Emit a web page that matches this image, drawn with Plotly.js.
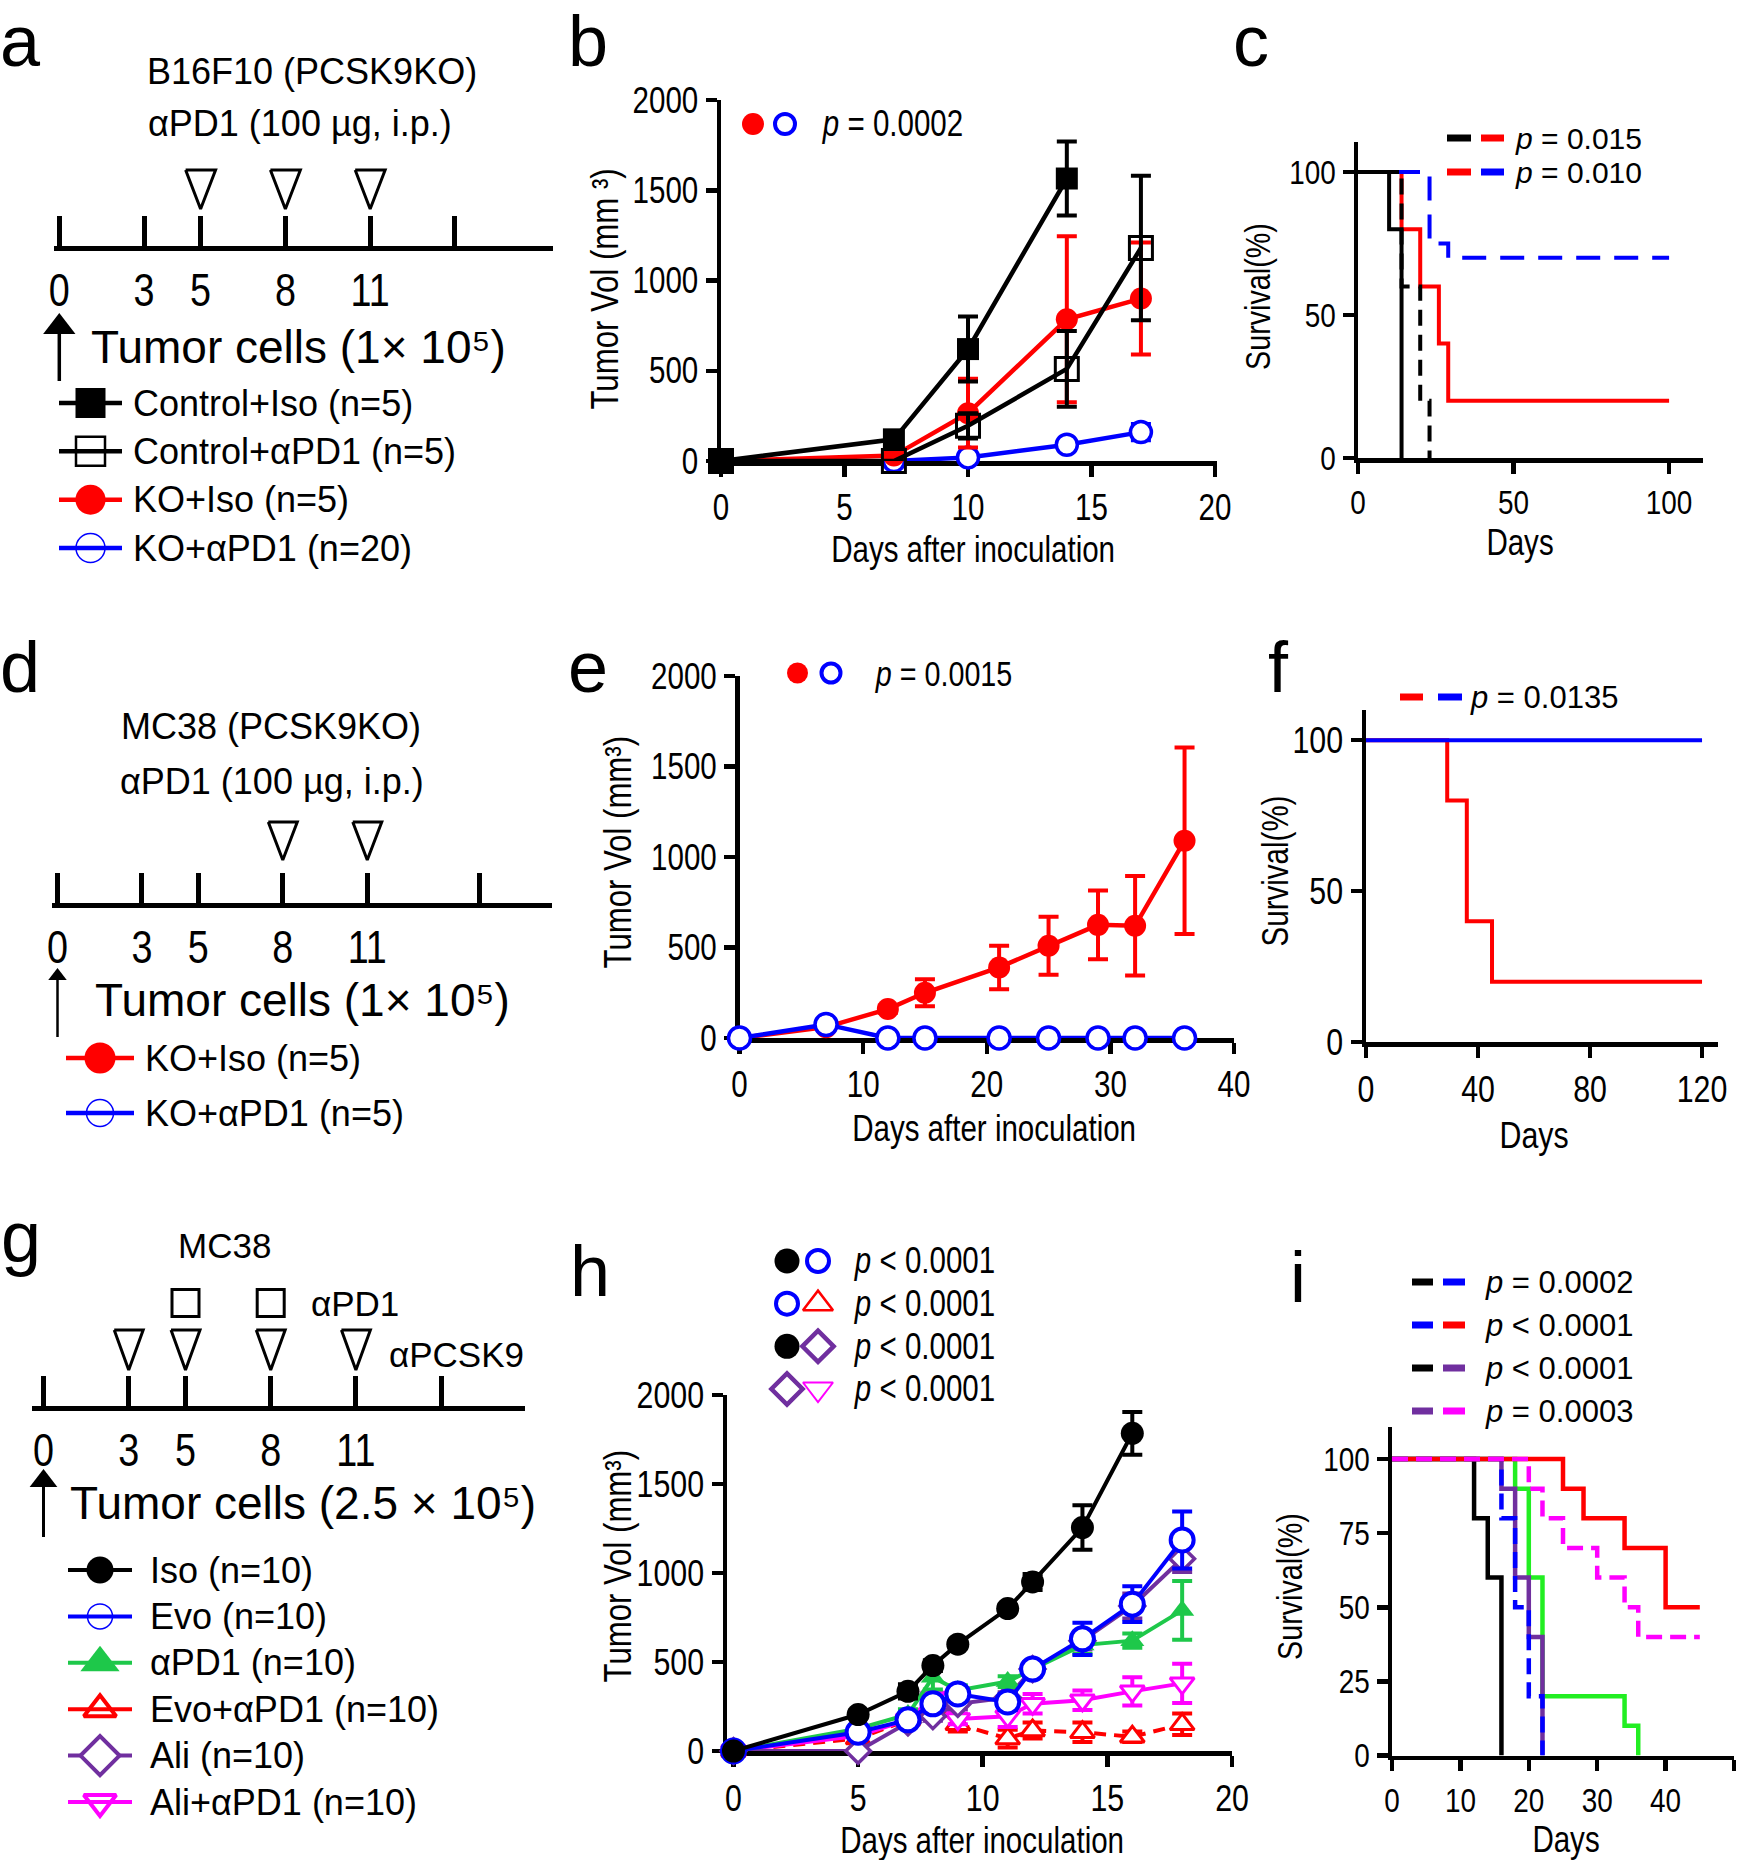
<!DOCTYPE html>
<html>
<head>
<meta charset="utf-8">
<script src="https://cdn.plot.ly/plotly-3.0.1.min.js"></script>
<style>html,body{margin:0;padding:0;background:#fff;}#fig{width:1751px;height:1860px;}</style>
</head>
<body>
<div id="fig"></div>
<script>
// ================= DATA =================
// treatment schedules (days)
const schedATicks=[0,3,5,8,11];
const schedAEnd=[14];
const schedADoses=[5,8,11];
const schedDTicks=[0,3,5,8,11];
const schedDEnd=[15];
const schedDDoses=[8,11];
const schedGTicks=[0,3,5,8,11];
const schedGEnd=[14];
const schedGPcsk9=[3,5,8,11];
const schedGPd1=[5,8];
const inoculationDay=[0];

// group names
const groupsB=['Control+Iso (n=5)','Control+αPD1 (n=5)','KO+Iso (n=5)','KO+αPD1 (n=20)'];
const groupsE=['KO+Iso (n=5)','KO+αPD1 (n=5)'];
const groupsH=['Iso (n=10)','Evo (n=10)','αPD1 (n=10)','Evo+αPD1 (n=10)','Ali (n=10)','Ali+αPD1 (n=10)'];

// panel b : tumour volume (mm3)
const bDaysCtrlIso=[0,7,10,14];
const bCtrlIso=[0,120,620,1565];
const bCtrlIsoErr=[0,20,180,205];
const bDaysCtrlPD1=[0,7,10,14,17];
const bCtrlPD1=[0,0,195,510,1180];
const bCtrlPD1Err=[0,0,70,210,400];
const bDaysKOIso=[0,7,10,14,17];
const bKOIso=[0,30,265,785,900];
const bKOIsoErr=[0,10,190,460,310];
const bDaysKOPD1=[7,10,14,17];
const bKOPD1=[0,20,90,160];
const bKOPD1Err=[0,15,20,45];
const bPText='<i>p</i> = 0.0002';

// panel c : survival (%)
const cCtrlIsoT=[0,10,14];      const cCtrlIsoS=[100,80,0];
const cCtrlPD1T=[0,14,20,23];   const cCtrlPD1S=[100,60,20,0];
const cKOIsoT=[0,14,20,26,29,100]; const cKOIsoS=[100,80,60,40,20,20];
const cKOPD1T=[0,23,29,100];    const cKOPD1S=[100,75,70,70];
const cPTexts=['<i>p</i> = 0.015','<i>p</i> = 0.010'];

// panel e : tumour volume (mm3)
const eDays=[0,7,12,15,21,25,29,32,36];
const eKOIso=[0,60,160,250,390,510,625,620,1090];
const eKOIsoErr=[0,10,20,75,120,160,190,275,515];
const eKOPD1=[0,75,0,0,0,0,0,0,0];
const eKOPD1Err=[0,0,0,0,0,0,0,0,0];
const ePText='<i>p</i> = 0.0015';

// panel f : survival (%)
const fKOIsoT=[0,29,36,45,120]; const fKOIsoS=[100,80,40,20,20];
const fKOPD1T=[0,120];          const fKOPD1S=[100,100];
const fPText='<i>p</i> = 0.0135';

// panel h : tumour volume (mm3)
const hDaysIso=[0,5,7,8,9,11,12,14,16];
const hIso=[0,205,335,480,600,800,950,1255,1785];
const hIsoErr=[0,20,40,30,20,20,45,125,120];
const hDays=[0,5,7,8,9,11,12,14,16,18];
const hEvo=[0,105,175,265,320,275,460,630,825,1185];
const hEvoErr=[0,20,25,30,30,45,40,90,100,160];
const hPD1=[0,125,205,415,340,390,460,595,620,790];
const hPD1Err=[0,20,30,70,30,30,30,50,40,165];
const hEvoPD1=[0,70,175,265,150,70,115,105,80,150];
const hEvoPD1Err=[0,15,20,30,40,50,45,55,30,60];
const hAli=[0,0,160,195,265,300,460,620,815,1080];
const hAliErr=[0,0,20,25,30,30,40,50,70,75];
const hAliPD1=[0,85,175,300,180,195,265,285,335,380];
const hAliPD1Err=[0,15,20,30,30,60,55,55,80,110];
const hPTexts=['<i>p</i> &lt; 0.0001','<i>p</i> &lt; 0.0001','<i>p</i> &lt; 0.0001','<i>p</i> &lt; 0.0001'];

// panel i : survival (%)
const iIsoT=[0,12,14,16];               const iIsoS=[100,80,60,0];
const iEvoT=[0,16,18,20,22];            const iEvoS=[100,80,50,20,0];
const iPD1T=[0,18,20,22,34,36];         const iPD1S=[100,90,60,20,10,0];
const iEvoPD1T=[0,25,28,34,40,45];      const iEvoPD1S=[100,90,80,70,50,50];
const iAliT=[0,16,18,20,22];            const iAliS=[100,90,60,40,0];
const iAliPD1T=[0,20,22,25,30,34,36,45];const iAliPD1S=[100,90,80,70,60,50,40,40];
const iPTexts=['<i>p</i> = 0.0002','<i>p</i> &lt; 0.0001','<i>p</i> &lt; 0.0001','<i>p</i> = 0.0003'];

// ================= STYLE / HELPERS =================
const W=1751,H=1860;
const NARROW='"Liberation Sans Narrow","Liberation Sans",Arial,sans-serif';
const SANS='"Liberation Sans",Arial,Helvetica,sans-serif';
const SQ=0.82; // horizontal condensing used when no narrow face is installed
const RED='#ff0000',BLUE='#0000ff',BLACK='#000000',GREENH='#1ec84a',GREENI='#22ee22',PURPLE='#702f9f',MAGENTA='#ff00ff';

const layout={width:W,height:H,margin:{l:0,r:0,t:0,b:0,pad:0},paper_bgcolor:'#fff',plot_bgcolor:'rgba(0,0,0,0)',
  showlegend:false,hovermode:false,annotations:[],shapes:[],font:{family:NARROW,color:'#000'}};
const traces=[];
let nAx=0;
function addAxes(xpx,ypx,xo,yo){
  nAx++; const s=nAx===1?'':String(nAx);
  const base={visible:false,showgrid:false,zeroline:false,fixedrange:true,automargin:false};
  layout['xaxis'+s]=Object.assign({},base,{domain:[xpx[0]/W,xpx[1]/W],anchor:'y'+s},xo||{});
  layout['yaxis'+s]=Object.assign({},base,{domain:[1-ypx[0]/H,1-ypx[1]/H],anchor:'x'+s},yo||{});
  return {x:'x'+s,y:'y'+s,ypx:ypx};
}
function text(t,xpx,ypx,size,family,extra){
  layout.annotations.push(Object.assign({xref:'paper',yref:'paper',x:xpx/W,y:1-ypx/H,text:t,showarrow:false,
    xanchor:'center',yanchor:'middle',font:{family:family,size:size,color:'#000'}},extra||{}));
}
function dataAxes(xpx,ypx,xrange,xticks,yrange,yticks,fs){
  const common={visible:true,showline:true,linecolor:'#000',linewidth:4.5,ticks:'outside',ticklen:11,tickwidth:4.5,
    tickcolor:'#000',tickfont:{family:NARROW,size:fs,color:'#000'},layer:'below traces'};
  return addAxes(xpx,ypx,Object.assign({},common,{range:xrange,tickvals:xticks,ticktext:xticks.map(String)}),
                          Object.assign({},common,{range:yrange,tickvals:yticks,ticktext:yticks.map(String)}));
}
function growth(a,x,y,err,st){
  traces.push({type:'scatter',mode:'lines+markers',x:x,y:y,xaxis:a.x,yaxis:a.y,cliponaxis:false,hoverinfo:'skip',
    line:{color:st.color,width:st.lw||4,dash:st.dash||'solid'},
    marker:{symbol:st.symbol,size:st.size,color:st.fill,line:{color:st.color,width:st.mlw||0}},
    error_y:{type:'data',array:err,visible:true,color:st.color,thickness:st.et||4,width:st.ew||10}});
}
function surv(a,x,y,color,dash,lw){
  traces.push({type:'scatter',mode:'lines',x:x,y:y,xaxis:a.x,yaxis:a.y,cliponaxis:false,hoverinfo:'skip',
    line:{shape:'hv',color:color,width:lw||4,dash:dash||'solid'}});
}
// timeline: day axis drawn at axisPx, sub-plot spans topPx..bottomPx so the arrow below fits
function timeline(xpx,axisPx,topPx,bottomPx,dayPx0,pxPerDay,ticks,endTick){
  const range=[(xpx[0]-dayPx0)/pxPerDay,(xpx[1]-dayPx0)/pxPerDay];
  return addAxes(xpx,[bottomPx,topPx],{visible:true,anchor:'free',position:1-axisPx/H,range:range,tickvals:ticks,ticktext:ticks.map(String),
    showline:true,linewidth:5,linecolor:'#000',ticks:'inside',ticklen:30,tickwidth:5,tickcolor:'#000',tickfont:{family:NARROW,size:46,color:'#000'},
    minor:{tickvals:endTick,ticks:'inside',ticklen:30,tickwidth:5,tickcolor:'#000',showgrid:false}},{range:[0,1]});
}
// y value on a timeline sub-plot for a pixel row
function tv(a,px){ return (a.ypx[0]-px)/(a.ypx[0]-a.ypx[1]); }
function doseTriangles(a,days,halfW,topPx,botPx){
  const top=tv(a,topPx),bot=tv(a,botPx);
  const x=[],y=[];
  days.forEach(d=>{x.push(d-halfW,d+halfW,d,d-halfW,null);y.push(top,top,bot,top,null);});
  traces.push({type:'scatter',mode:'lines',x:x,y:y,xaxis:a.x,yaxis:a.y,cliponaxis:false,hoverinfo:'skip',line:{color:'#000',width:3}});
}
function inoculationArrow(a,days,tipPx,tailPx,lw,head){
  const headC=tipPx+head/2;
  days.forEach(d=>{
    traces.push({type:'scatter',mode:'lines',x:[d,d],y:[tv(a,tailPx),tv(a,headC)],xaxis:a.x,yaxis:a.y,cliponaxis:false,hoverinfo:'skip',line:{color:'#000',width:lw}});
    traces.push({type:'scatter',mode:'markers',x:[d],y:[tv(a,headC)],xaxis:a.x,yaxis:a.y,cliponaxis:false,hoverinfo:'skip',
      marker:{symbol:'triangle-up',size:head,color:'#000',line:{width:0}}});
  });
}
function rowAxes(x0,x1,yFirst,yLast,n){
  const sp=n>1?(yLast-yFirst)/(n-1):20; const pad=sp/2;
  return addAxes([x0,x1],[yLast+pad,yFirst-pad],{range:[0,1]},{range:[n-1+0.5,-0.5]});
}
function rowText(a,i,t,textX,family,fs){
  layout.annotations.push({xref:'paper',yref:a.y,x:textX/W,y:i,text:t,showarrow:false,xanchor:'left',yanchor:'middle',
    font:{family:family,size:fs,color:'#000'}});
}
function legendBlock(x0,x1,yFirst,yLast,entries,textX,fs){
  const a=rowAxes(x0,x1,yFirst,yLast,entries.length);
  entries.forEach((e,i)=>{
    traces.push({type:'scatter',mode:'lines',x:[0,1],y:[i,i],xaxis:a.x,yaxis:a.y,cliponaxis:false,hoverinfo:'skip',line:{color:e.color,width:e.lw}});
    traces.push({type:'scatter',mode:'markers',x:[0.5],y:[i],xaxis:a.x,yaxis:a.y,cliponaxis:false,hoverinfo:'skip',
      marker:{symbol:e.symbol,size:e.size,color:e.fill,line:{color:e.color,width:e.mlw||0}}});
    rowText(a,i,e.name,textX,SANS,fs);
  });
}
function pointKey(x0,x1,yFirst,yLast,rows,textX,family,fs){
  const a=rowAxes(x0,x1,yFirst,yLast,rows.length);
  rows.forEach((r,i)=>{
    r.s.forEach((st,j)=>traces.push({type:'scatter',mode:'markers',x:[j],y:[i],xaxis:a.x,yaxis:a.y,cliponaxis:false,hoverinfo:'skip',
      marker:{symbol:st.symbol,size:st.size,color:st.fill,line:{color:st.color,width:st.mlw||0}}}));
    rowText(a,i,r.text,textX,family,fs);
  });
}
function dashKey(x0,x1,yFirst,yLast,rows,seg1End,seg2Start,textX,family,fs,lw){
  const a=rowAxes(x0,x1,yFirst,yLast,rows.length);
  const s1=(seg1End-x0)/(x1-x0),s2=(seg2Start-x0)/(x1-x0);
  rows.forEach((r,i)=>{
    traces.push({type:'scatter',mode:'lines',x:[0,s1],y:[i,i],xaxis:a.x,yaxis:a.y,cliponaxis:false,hoverinfo:'skip',line:{color:r.c[0],width:lw}});
    traces.push({type:'scatter',mode:'lines',x:[s2,1],y:[i,i],xaxis:a.x,yaxis:a.y,cliponaxis:false,hoverinfo:'skip',line:{color:r.c[1],width:lw}});
    rowText(a,i,r.text,textX,family,fs);
  });
}

// marker styles
const stB={
  ctrlIso:{color:BLACK,symbol:'square',fill:BLACK,size:22,lw:4.5},
  ctrlPD1:{color:BLACK,symbol:'square-open',fill:BLACK,size:23,mlw:3,lw:4.5},
  koIso:{color:RED,symbol:'circle',fill:RED,size:22,lw:4.5},
  koPD1:{color:BLUE,symbol:'circle',fill:'#ffffff',size:21,mlw:3.5,lw:4.5}
};
const stH={
  iso:{color:BLACK,symbol:'circle',fill:BLACK,size:23,lw:4},
  evo:{color:BLUE,symbol:'circle',fill:'#ffffff',size:23,mlw:4,lw:4},
  pd1:{color:GREENH,symbol:'triangle-up',fill:GREENH,size:21,lw:4},
  evoPD1:{color:RED,symbol:'triangle-up',fill:'#ffffff',size:21,mlw:3,lw:4,dash:'12px,8px'},
  ali:{color:PURPLE,symbol:'diamond',fill:'#ffffff',size:19,mlw:3.5,lw:4},
  aliPD1:{color:MAGENTA,symbol:'triangle-down',fill:'#ffffff',size:21,mlw:3,lw:4}
};

// ================= PANEL a =================
text('B16F10 (PCSK9KO)',312,71,36,SANS);
text('αPD1 (100 µg, i.p.)',300,123,36,SANS);
const tA=timeline([54,553],248,140,392,59.3,28.26,schedATicks,schedAEnd);
doseTriangles(tA,schedADoses,0.53,170,209);
inoculationArrow(tA,inoculationDay,313,381,3.5,28);
text('Tumor cells (1× 10⁵)',89,347,46,SANS,{xanchor:'left'});
legendBlock(59,122,403,548,[
  {name:groupsB[0],color:BLACK,lw:4.5,symbol:'square',fill:BLACK,size:30},
  {name:groupsB[1],color:BLACK,lw:4.5,symbol:'square-open',fill:BLACK,size:29,mlw:2.5},
  {name:groupsB[2],color:RED,lw:4.5,symbol:'circle',fill:RED,size:30},
  {name:groupsB[3],color:BLUE,lw:4.5,symbol:'circle-open',fill:BLUE,size:29,mlw:1.5}
],131,36);

// ================= PANEL b =================
const aB=dataAxes([721,1217],[461,100],[0,20.08],[0,5,10,15,20],[0,2000],[0,500,1000,1500,2000],36);
growth(aB,bDaysKOPD1,bKOPD1,bKOPD1Err,stB.koPD1);
growth(aB,bDaysKOIso,bKOIso,bKOIsoErr,stB.koIso);
growth(aB,bDaysCtrlPD1,bCtrlPD1,bCtrlPD1Err,stB.ctrlPD1);
growth(aB,bDaysCtrlIso,bCtrlIso,bCtrlIsoErr,stB.ctrlIso);
text('Tumor Vol (mm ³)',605,289,38,NARROW,{textangle:-90});
text('Days after inoculation',973,549,36,NARROW);
pointKey(753,785,124,124,[{s:[{symbol:'circle',fill:RED,color:RED,size:22},{symbol:'circle-open',fill:BLUE,color:BLUE,size:20,mlw:4}],text:bPText}],820,NARROW,36);

// ================= PANEL c =================
const aC=dataAxes([1358,1703],[458,142],[0,110.9],[0,50,100],[0,110.5],[0,50,100],34);
surv(aC,cKOIsoT,cKOIsoS,RED,'solid',4);
surv(aC,cKOPD1T,cKOPD1S,BLUE,'24px,14px',4);
surv(aC,cCtrlIsoT,cCtrlIsoS,BLACK,'solid',4);
surv(aC,cCtrlPD1T,cCtrlPD1S,BLACK,'16px,9px',4);
text('Survival(%)',1257,297,35,NARROW,{textangle:-90});
text('Days',1520,542,36,NARROW);
dashKey(1447,1504,138,172,[{c:[BLACK,RED],text:cPTexts[0]},{c:[RED,BLUE],text:cPTexts[1]}],1471,1481,1513,SANS,30,7);

// ================= PANEL d =================
text('MC38 (PCSK9KO)',271,726,36,SANS);
text('αPD1 (100 µg, i.p.)',272,781,36,SANS);
const tD=timeline([52,552],905,805,1045,57.5,28.16,schedDTicks,schedDEnd);
doseTriangles(tD,schedDDoses,0.515,822,860);
inoculationArrow(tD,inoculationDay,968,1037,2.5,16);
text('Tumor cells (1× 10⁵)',93,1000,46,SANS,{xanchor:'left'});
legendBlock(66,134,1058,1113,[
  {name:groupsE[0],color:RED,lw:4.5,symbol:'circle',fill:RED,size:31},
  {name:groupsE[1],color:BLUE,lw:4.5,symbol:'circle-open',fill:BLUE,size:27,mlw:1.5}
],143,36);

// ================= PANEL e =================
const aE=dataAxes([739.5,1234],[1038,676],[0,40],[0,10,20,30,40],[0,2000],[0,500,1000,1500,2000],36);
growth(aE,eDays,eKOIso,eKOIsoErr,{color:RED,symbol:'circle',fill:RED,size:22,lw:4.5});
growth(aE,eDays,eKOPD1,eKOPD1Err,{color:BLUE,symbol:'circle',fill:'#ffffff',size:22,mlw:3.5,lw:4.5});
text('Tumor Vol (mm³)',618,852,38,NARROW,{textangle:-90});
text('Days after inoculation',994,1128,36,NARROW);
pointKey(797.5,831,673,673,[{s:[{symbol:'circle',fill:RED,color:RED,size:21},{symbol:'circle-open',fill:BLUE,color:BLUE,size:19,mlw:4}],text:ePText}],872.5,NARROW,35);

// ================= PANEL f =================
const aF=dataAxes([1366,1718],[1042,710],[0,125.7],[0,40,80,120],[0,110],[0,50,100],37);
surv(aF,fKOIsoT,fKOIsoS,RED,'solid',4);
surv(aF,fKOPD1T,fKOPD1S,BLUE,'solid',4);
text('Survival(%)',1275,871,36,NARROW,{textangle:-90});
text('Days',1534,1135,37,NARROW);
dashKey(1400,1462,697,697,[{c:[RED,BLUE],text:fPText}],1423,1438,1468,SANS,31,7);

// ================= PANEL g =================
text('MC38',224,1245,35,SANS);
const tG=timeline([32,525],1408,1280,1547,43.5,28.4,schedGTicks,schedGEnd);
doseTriangles(tG,schedGPcsk9,0.51,1330,1370);
traces.push({type:'scatter',mode:'markers',x:schedGPd1,y:schedGPd1.map(()=>tv(tG,1303)),xaxis:tG.x,yaxis:tG.y,cliponaxis:false,hoverinfo:'skip',
  marker:{symbol:'square-open',size:27,color:'#000',line:{color:'#000',width:3}}});
text('αPD1',309,1303,35,SANS,{xanchor:'left'});
text('αPCSK9',387,1354,35,SANS,{xanchor:'left'});
inoculationArrow(tG,inoculationDay,1469,1537,3,24);
text('Tumor cells (2.5 × 10⁵)',68,1503,46,SANS,{xanchor:'left'});
legendBlock(68,132,1570,1802,[
  {name:groupsH[0],color:BLACK,lw:4,symbol:'circle',fill:BLACK,size:27},
  {name:groupsH[1],color:BLUE,lw:4,symbol:'circle-open',fill:BLUE,size:25,mlw:1.5},
  {name:groupsH[2],color:GREENH,lw:4,symbol:'triangle-up',fill:GREENH,size:34},
  {name:groupsH[3],color:RED,lw:4,symbol:'triangle-up-open',fill:RED,size:28,mlw:4},
  {name:groupsH[4],color:PURPLE,lw:4,symbol:'diamond',fill:'#ffffff',size:30,mlw:4},
  {name:groupsH[5],color:MAGENTA,lw:4,symbol:'triangle-down-open',fill:MAGENTA,size:28,mlw:4}
],148,36);

// ================= PANEL h =================
const aH=dataAxes([727,1232],[1751,1395],[-0.26,20],[0,5,10,15,20],[0,2000],[0,500,1000,1500,2000],37);
growth(aH,hDays,hEvoPD1,hEvoPD1Err,stH.evoPD1);
growth(aH,hDays,hAliPD1,hAliPD1Err,stH.aliPD1);
growth(aH,hDays,hAli,hAliErr,stH.ali);
growth(aH,hDays,hPD1,hPD1Err,stH.pd1);
growth(aH,hDays,hEvo,hEvoErr,stH.evo);
growth(aH,hDaysIso,hIso,hIsoErr,stH.iso);
text('Tumor Vol (mm³)',618,1566,38,NARROW,{textangle:-90});
text('Days after inoculation',982,1840,36,NARROW);
const kIso={symbol:'circle',fill:BLACK,color:BLACK,size:25};
const kEvo={symbol:'circle-open',fill:BLUE,color:BLUE,size:22,mlw:4};
const kEvoPD1={symbol:'triangle-up-open',fill:RED,color:RED,size:26,mlw:2.5};
const kAli={symbol:'diamond-open',fill:PURPLE,color:PURPLE,size:24,mlw:4.5};
const kAliPD1={symbol:'triangle-down-open',fill:MAGENTA,color:MAGENTA,size:26,mlw:2};
pointKey(787,818,1261,1389,[
  {s:[kIso,kEvo],text:hPTexts[0]},
  {s:[kEvo,kEvoPD1],text:hPTexts[1]},
  {s:[kIso,kAli],text:hPTexts[2]},
  {s:[kAli,kAliPD1],text:hPTexts[3]}
],852,NARROW,36);

// ================= PANEL i =================
const aI=dataAxes([1392,1734],[1755.5,1427],[0,50],[0,10,20,30,40,50],[0,110.8],[0,25,50,75,100],34);
surv(aI,iIsoT,iIsoS,BLACK,'solid',4.5);
surv(aI,iPD1T,iPD1S,GREENI,'solid',4.5);
surv(aI,iAliT,iAliS,PURPLE,'solid',4.5);
surv(aI,iEvoT,iEvoS,BLUE,'16px,8px',4.5);
surv(aI,iEvoPD1T,iEvoPD1S,RED,'solid',4.5);
surv(aI,iAliPD1T,iAliPD1S,MAGENTA,'16px,8px',4.5);
text('Survival(%)',1289,1587,35,NARROW,{textangle:-90});
text('Days',1566,1839,36,NARROW);
dashKey(1412,1465,1282,1411,[
  {c:[BLACK,BLUE],text:iPTexts[0]},
  {c:[BLUE,RED],text:iPTexts[1]},
  {c:[BLACK,PURPLE],text:iPTexts[2]},
  {c:[PURPLE,MAGENTA],text:iPTexts[3]}
],1433,1443,1483,SANS,31,7);

// ================= PANEL LETTERS =================
const LS=72; // Liberation Sans: ascent .905, descent .212 -> middle = baseline - .3465em
[['a',-2,66],['b',566,66],['c',1231,66],['d',-2,692],['e',566,692],['f',1266,692],['g',-1,1262],['h',568,1296],['i',1288,1302]]
  .forEach(l=>text(l[0],l[1],l[2]-0.3465*LS,LS,SANS,{xanchor:'left'}));

Plotly.newPlot('fig',traces,layout,{staticPlot:true,displayModeBar:false}).then(function(gd){
  // condense the "narrow" texts when no narrow face is installed
  const ctx=document.createElement('canvas').getContext('2d');
  ctx.font='40px "Liberation Sans Narrow", monospace'; const w1=ctx.measureText('Days after 2000').width;
  ctx.font='40px monospace'; const w2=ctx.measureText('Days after 2000').width;
  if(Math.abs(w1-w2)>0.5) return;
  const leftIdx=new Set();
  layout.annotations.forEach((a,i)=>{ if(a.xanchor==='left' && a.font && a.font.family===NARROW) leftIdx.add(i); });
  gd.querySelectorAll('text').forEach(function(t){
    const ff=(t.style && t.style.fontFamily)||t.getAttribute('font-family')||'';
    if(ff.indexOf('Narrow')<0) return;
    const len=t.getComputedTextLength();
    if(!(len>0)) return;
    let isLeft=false;
    const g=t.closest('g.annotation');
    if(g && leftIdx.has(+g.getAttribute('data-index'))) isLeft=true;
    const b0=t.getBBox();
    t.setAttribute('textLength',(len*SQ).toFixed(2));
    t.setAttribute('lengthAdjust','spacingAndGlyphs');
    if(isLeft){
      const b1=t.getBBox();
      const dx=b0.x-b1.x;
      t.setAttribute('x',(parseFloat(t.getAttribute('x')||'0')+dx).toFixed(2));
    }
  });
});
</script>
</body>
</html>
